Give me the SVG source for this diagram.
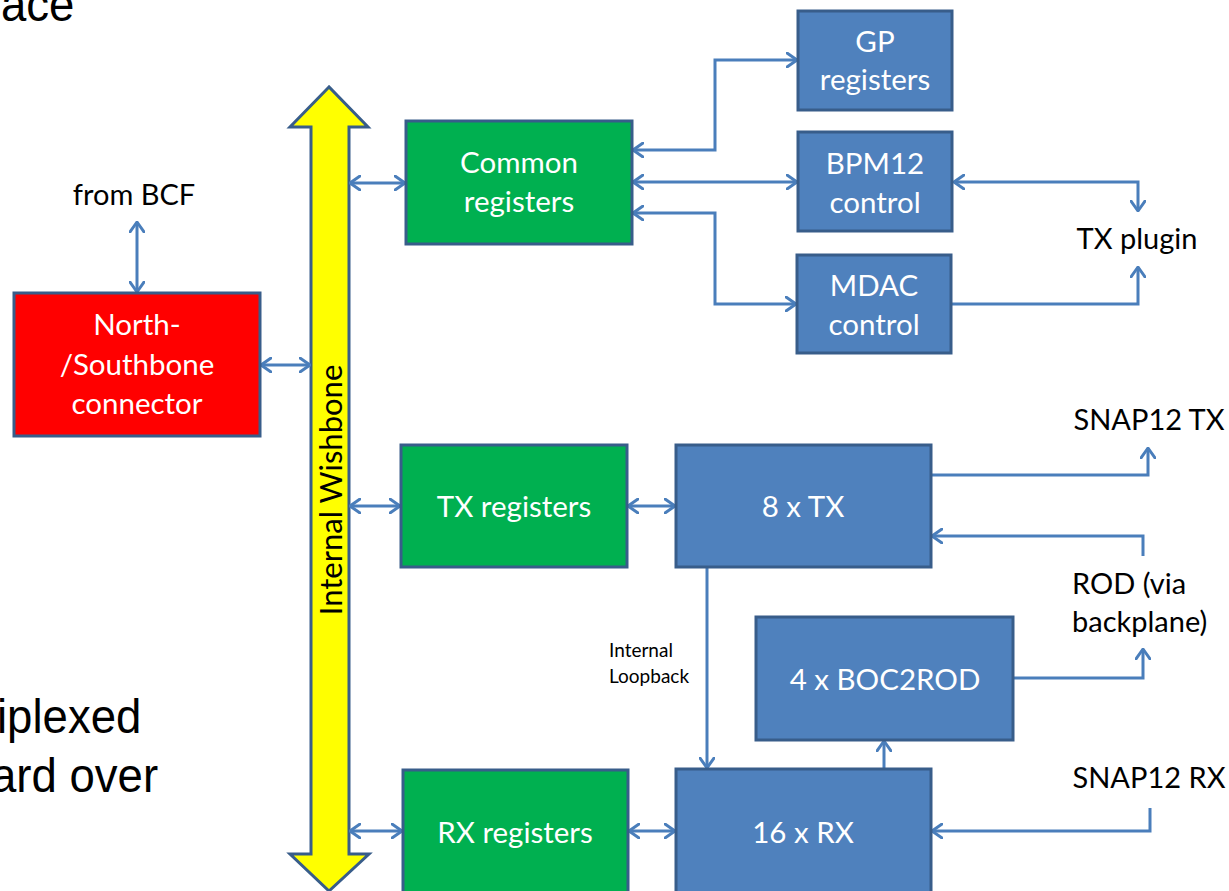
<svg xmlns="http://www.w3.org/2000/svg" width="1229" height="891" viewBox="0 0 1229 891">
  <style>
    .box { stroke: #385D8A; stroke-width: 3; }
    .green { fill: #00B050; }
    .blue { fill: #4F81BD; }
    .red { fill: #FF0000; }
    .lbl { font-family: Lato, "Open Sans", sans-serif; font-size: 29.5px; fill: #FFFFFF; text-anchor: middle; }
    .ext { font-family: Lato, "Open Sans", sans-serif; font-size: 29px; fill: #000000; text-anchor: middle; }
    .small { font-family: Lato, "Open Sans", sans-serif; font-size: 19px; fill: #000000; }
    .slide { font-family: "Liberation Sans", Arial, sans-serif; font-size: 49px; fill: #000000; }
    .wire { fill: none; stroke: #4A7EBB; stroke-width: 3; }
  </style>
  <defs>
    <marker id="chev" viewBox="0 0 12 16" refX="11" refY="8" markerWidth="12" markerHeight="16" markerUnits="userSpaceOnUse" orient="auto-start-reverse">
      <path d="M1,1 L11,8 L1,15" fill="none" stroke="#4A7EBB" stroke-width="3" stroke-linecap="round" stroke-linejoin="round"/>
    </marker>
  </defs>

  <rect width="1229" height="891" fill="#FFFFFF"/>

  <!-- surrounding slide text -->
  <g id="slide-text">
    <text class="slide" transform="translate(1,21) scale(0.93,1)">ace</text>
    <text class="slide" transform="translate(-3,733) scale(0.93,1)">iplexed</text>
    <text class="slide" transform="translate(-9,792) scale(0.93,1)">ard over</text>
  </g>

  <!-- internal wishbone bus -->
  <g id="wishbone">
    <polygon points="329,87 290,127 311,127 311,854 290,854 329,891 369,854 349,854 349,127 368,127" fill="#FFFF00" stroke="#385D8A" stroke-width="3" stroke-linejoin="miter"/>
    <text class="ext" style="font-size:31px" transform="translate(342,490) rotate(-90)">Internal Wishbone</text>
  </g>

  <g id="connectors">
    <path class="wire" d="M137,222 V292" marker-start="url(#chev)" marker-end="url(#chev)"/>
    <path class="wire" d="M261,365 H310" marker-start="url(#chev)" marker-end="url(#chev)"/>
    <path class="wire" d="M350,183 H405" marker-start="url(#chev)" marker-end="url(#chev)"/>
    <path class="wire" d="M633,150 H715 V60 H797" marker-start="url(#chev)" marker-end="url(#chev)"/>
    <path class="wire" d="M633,182 H797" marker-start="url(#chev)" marker-end="url(#chev)"/>
    <path class="wire" d="M633,213 H715 V304 H796" marker-start="url(#chev)" marker-end="url(#chev)"/>
    <path class="wire" d="M954,182 H1138 V211" marker-start="url(#chev)" marker-end="url(#chev)"/>
    <path class="wire" d="M952,304 H1138 V267" marker-end="url(#chev)"/>
    <path class="wire" d="M350,506 H400" marker-start="url(#chev)" marker-end="url(#chev)"/>
    <path class="wire" d="M628,506 H675" marker-start="url(#chev)" marker-end="url(#chev)"/>
    <path class="wire" d="M932,475 H1148 V448" marker-end="url(#chev)"/>
    <path class="wire" d="M1143,556 V536 H932" marker-end="url(#chev)"/>
    <path class="wire" d="M1014,678 H1143 V649" marker-end="url(#chev)"/>
    <path class="wire" d="M707,568 V768" marker-end="url(#chev)"/>
    <path class="wire" d="M884,768 V741" marker-end="url(#chev)"/>
    <path class="wire" d="M350,831 H402" marker-start="url(#chev)" marker-end="url(#chev)"/>
    <path class="wire" d="M629,831 H675" marker-start="url(#chev)" marker-end="url(#chev)"/>
    <path class="wire" d="M1150,808 V831 H932" marker-end="url(#chev)"/>
  </g>

  <g id="ns-connector">
    <rect class="box red" x="14" y="293" width="246" height="143"/>
    <text class="lbl" x="137" y="335">North-</text>
    <text class="lbl" x="137" y="375">/Southbone</text>
    <text class="lbl" x="137" y="414">connector</text>
  </g>

  <g id="common-registers">
    <rect class="box green" x="406" y="121" width="226" height="123"/>
    <text class="lbl" x="519" y="173">Common</text>
    <text class="lbl" x="519" y="212">registers</text>
  </g>

  <g id="gp-registers">
    <rect class="box blue" x="798" y="11" width="154" height="99"/>
    <text class="lbl" x="875" y="52">GP</text>
    <text class="lbl" x="875" y="90">registers</text>
  </g>

  <g id="bpm12-control">
    <rect class="box blue" x="798" y="132" width="154" height="99"/>
    <text class="lbl" x="875" y="174">BPM12</text>
    <text class="lbl" x="875" y="213">control</text>
  </g>

  <g id="mdac-control">
    <rect class="box blue" x="797" y="255" width="154" height="98"/>
    <text class="lbl" x="874" y="296">MDAC</text>
    <text class="lbl" x="874" y="335">control</text>
  </g>

  <g id="tx-registers">
    <rect class="box green" x="401" y="445" width="226" height="122"/>
    <text class="lbl" x="514" y="517">TX registers</text>
  </g>

  <g id="tx8">
    <rect class="box blue" x="676" y="445" width="255" height="122"/>
    <text class="lbl" x="803" y="517">8 x TX</text>
  </g>

  <g id="boc2rod">
    <rect class="box blue" x="756" y="617" width="257" height="123"/>
    <text class="lbl" x="885" y="690">4 x BOC2ROD</text>
  </g>

  <g id="rx-registers">
    <rect class="box green" x="403" y="770" width="225" height="130"/>
    <text class="lbl" x="515" y="843">RX registers</text>
  </g>

  <g id="rx16">
    <rect class="box blue" x="676" y="769" width="255" height="130"/>
    <text class="lbl" x="803" y="843">16 x RX</text>
  </g>

  <g id="external-labels">
    <text class="ext" x="134" y="205">from BCF</text>
    <text class="ext" x="1137" y="249">TX plugin</text>
    <text class="ext" x="1149" y="430">SNAP12 TX</text>
    <text class="ext" x="1072" y="594" text-anchor="start" style="text-anchor:start">ROD (via</text>
    <text class="ext" x="1072" y="632" text-anchor="start" style="text-anchor:start">backplane)</text>
    <text class="ext" x="1149" y="788">SNAP12 RX</text>
    <text class="small" x="609" y="657">Internal</text>
    <text class="small" x="609" y="683">Loopback</text>
  </g>
</svg>
